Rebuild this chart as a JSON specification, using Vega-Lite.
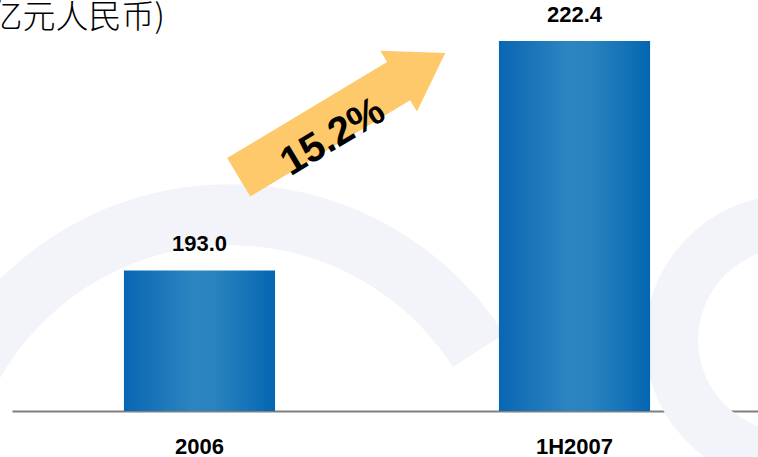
{
  "$schema": "https://vega.github.io/schema/vega-lite/v6.json",
  "width": 750,
  "height": 370,
  "autosize": "none",
  "padding": {"left": 12, "top": 41, "right": 0, "bottom": 46},
  "background": "white",
  "config": {"view": {"stroke": null}},
  "layer": [
    {
      "data": {"values": [
        {"kind": "arch", "xi": 0.581, "yv": 162.3, "label": ""},
        {"kind": "arch2", "xi": 2.075, "yv": 184.1, "label": ""},
        {"kind": "arrow", "xi": 0.88, "yv": 212.9, "label": ""},
        {"kind": "growth", "xi": 0.856, "yv": 210.1, "label": "15.2%"},
        {"kind": "unit", "xi": -0.088, "yv": 225.4, "label": "(亿元人民币)"}
      ]},
      "layer": [
        {
          "transform": [{"filter": "datum.kind === 'arch'"}],
          "mark": {
            "type": "arc", "radius": 326, "radius2": 265,
            "theta": -1.95, "theta2": 1.0, "color": "#f3f4f9"
          },
          "encoding": {
            "x": {"field": "xi", "type": "quantitative", "scale": {"domain": [0, 2], "nice": false, "zero": false}, "axis": null},
            "y": {"field": "yv", "type": "quantitative", "scale": {"domain": [175, 222.4], "zero": false, "nice": false}, "axis": null}
          }
        },
        {
          "transform": [{"filter": "datum.kind === 'arch2'"}],
          "mark": {
            "type": "arc", "radius": 145, "radius2": 92,
            "theta": -3.3, "theta2": 0.2, "color": "#f3f4f9"
          },
          "encoding": {
            "x": {"field": "xi", "type": "quantitative"},
            "y": {"field": "yv", "type": "quantitative"}
          }
        },
        {
          "transform": [{"filter": "datum.kind === 'arrow'"}],
          "mark": {
            "type": "point",
            "shape": "M-1,-0.186L0.548,-0.186L0.548,-0.295L1,0L0.548,0.295L0.548,0.186L-1,0.186Z",
            "filled": true, "color": "#fdc96a", "opacity": 1,
            "size": 58081, "angle": 329, "strokeWidth": 0
          },
          "encoding": {
            "x": {"field": "xi", "type": "quantitative"},
            "y": {"field": "yv", "type": "quantitative"}
          }
        },
        {
          "transform": [{"filter": "datum.kind === 'growth'"}],
          "mark": {
            "type": "text", "font": "Liberation Sans", "fontWeight": "bold",
            "fontSize": 40, "angle": 329, "align": "center", "baseline": "middle", "color": "#000000"
          },
          "encoding": {
            "x": {"field": "xi", "type": "quantitative"},
            "y": {"field": "yv", "type": "quantitative"},
            "text": {"field": "label"}
          }
        },
        {
          "transform": [{"filter": "datum.kind === 'unit'"}],
          "mark": {
            "type": "text", "font": "Noto Sans CJK SC", "fontWeight": 300,
            "fontSize": 33, "align": "left", "baseline": "middle", "color": "#000000"
          },
          "encoding": {
            "x": {"field": "xi", "type": "quantitative"},
            "y": {"field": "yv", "type": "quantitative"},
            "text": {"field": "label"}
          }
        }
      ]
    },
    {
      "data": {"values": [
        {"period": "2006", "value": 193.0},
        {"period": "1H2007", "value": 222.4}
      ]},
      "layer": [
        {
          "mark": {
            "type": "bar",
            "color": {
              "gradient": "linear",
              "x1": 0, "x2": 1, "y1": 0, "y2": 0,
              "stops": [
                {"offset": 0, "color": "#0966b2"},
                {"offset": 0.45, "color": "#2c84c0"},
                {"offset": 0.6, "color": "#2a83bf"},
                {"offset": 1, "color": "#0466b2"}
              ]
            }
          },
          "encoding": {
            "x": {
              "field": "period", "type": "nominal", "sort": null,
              "scale": {"paddingInner": 0.597, "paddingOuter": 0.2985},
              "axis": {
                "orient": "bottom",
                "title": null, "labelAngle": 0, "ticks": false, "grid": false,
                "domain": true, "domainColor": "#7f7f7f", "domainWidth": 2,
                "labelFont": "Liberation Sans", "labelFontWeight": "bold",
                "labelFontSize": 22, "labelColor": "#000000", "labelPadding": 25
              }
            },
            "y": {
              "field": "value", "type": "quantitative",
              "scale": {"domain": [175, 222.4], "zero": false, "nice": false},
              "axis": null
            },
            "y2": {"datum": 175}
          }
        },
        {
          "mark": {
            "type": "text", "font": "Liberation Sans", "fontWeight": "bold",
            "fontSize": 22, "baseline": "bottom", "dy": -14, "color": "#000000"
          },
          "encoding": {
            "x": {"field": "period", "type": "nominal", "sort": null},
            "y": {"field": "value", "type": "quantitative"},
            "text": {"field": "value", "type": "quantitative", "format": ".1f"}
          }
        }
      ]
    }
  ],
  "resolve": {"scale": {"x": "independent"}}
}
